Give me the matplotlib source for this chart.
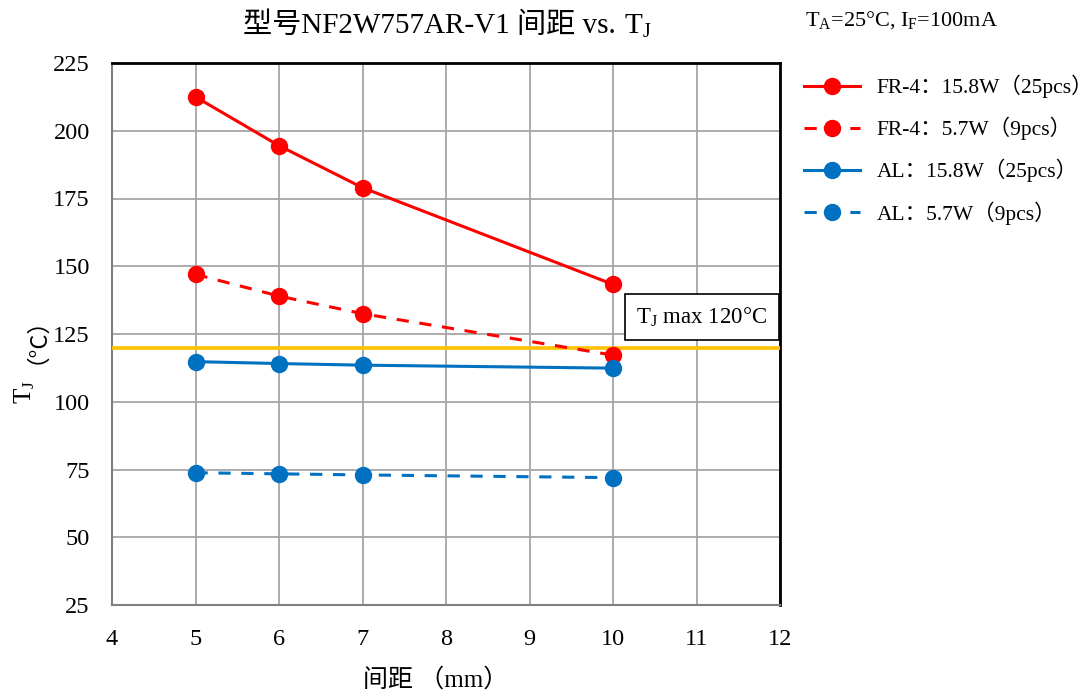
import matplotlib
matplotlib.use("Agg")
import matplotlib.pyplot as plt
from matplotlib.offsetbox import TextArea, HPacker, AnnotationBbox

plt.rcParams['font.family'] = ['Liberation Serif', 'Noto Sans CJK SC']
plt.rcParams['mathtext.fontset'] = 'custom'
plt.rcParams['mathtext.rm'] = 'Liberation Serif'
plt.rcParams['mathtext.it'] = 'Liberation Serif:italic'
plt.rcParams['mathtext.bf'] = 'Liberation Serif:bold'

# ---- data ----
spacing = [5, 6, 7, 10]
fr4_158 = [212.5, 194.5, 179.0, 143.3]
fr4_57 = [147.0, 139.0, 132.5, 117.2]
al_158 = [114.8, 114.1, 113.5, 112.4]
al_57 = [73.8, 73.4, 73.0, 72.0]
series_labels = ["FR-4：15.8W（25pcs）", "FR-4：5.7W（9pcs）",
                 "AL：15.8W（25pcs）", "AL：5.7W（9pcs）"]
tj_max = 120
x_ticks = [4, 5, 6, 7, 8, 9, 10, 11, 12]
y_ticks = [25, 50, 75, 100, 125, 150, 175, 200, 225]

RED = "#FF0000"
BLUE = "#0070C0"
YELLOW = "#FFC000"

fig = plt.figure(figsize=(10.92, 6.93), dpi=100)
ax = fig.add_axes([112/1092, 1-605/693, (780-112)/1092, (605-63)/693])

lw = 2.2
ms = 11.5
ax.plot(spacing, fr4_158, color=RED, lw=lw, marker='o', ms=ms, label=series_labels[0], zorder=5)
ax.plot(spacing, fr4_57, color=RED, lw=lw, marker='o', ms=ms, ls=(0, (4, 3.5)), label=series_labels[1], zorder=5)
ax.plot(spacing, al_158, color=BLUE, lw=lw, marker='o', ms=ms, label=series_labels[2], zorder=5)
ax.plot(spacing, al_57, color=BLUE, lw=lw, marker='o', ms=ms, ls=(0, (4, 3.5)), label=series_labels[3], zorder=5)
ax.axhline(tj_max, color=YELLOW, lw=2.6, zorder=4)

ax.set_xlim(4, 12)
ax.set_ylim(25, 225)
ax.set_xticks(x_ticks)
ax.set_yticks(y_ticks)
ax.tick_params(length=0, labelsize=17.5)
ax.tick_params(axis='y', pad=16)
ax.tick_params(axis='x', pad=17)
ax.grid(True, color="#A6A6A6", lw=1.3)
ax.set_axisbelow(True)
for s in ['left', 'bottom']:
    ax.spines[s].set_color("#7F7F7F")
    ax.spines[s].set_linewidth(1.5)
for s in ['top', 'right']:
    ax.spines[s].set_color("black")
    ax.spines[s].set_linewidth(2.0)

# title
t1 = TextArea("型号NF2W757AR-V1 间距 vs.", textprops=dict(size=21, family=['Liberation Serif', 'Noto Sans CJK SC']))
t2 = TextArea(r"T$_\mathregular{J}$", textprops=dict(size=21))
title = HPacker(children=[t1, t2], align="baseline", pad=0, sep=6)
ab = AnnotationBbox(title, (447/1092, 1-26/693), xycoords='figure fraction',
                    box_alignment=(0.5, 0.5), frameon=False)
fig.add_artist(ab)

# x label
fig.text(436/1092, 1-680/693, "间距 （mm）", ha='center', va='center', size=18)

# y label
fig.text(25/1092, 1-392/693, r"T$_\mathregular{J}$", rotation=90, ha='center', va='center', size=18)
fig.text(25/1092, 1-329/693, "（°C）", rotation=90, ha='center', va='center', size=17,
         family=['Noto Sans CJK SC'])

# conditions
fig.text(805/1092, 1-20/693, r"T$_\mathregular{A}$=25°C, I$_\mathregular{F}$=100mA",
         ha='left', va='center', size=16)

# Tj max annotation box
ax.text(11.06, 131.3, r"T$_\mathregular{J}$ max 120°C", ha='center', va='center', size=16.5,
        bbox=dict(boxstyle='square,pad=0.5', fc='white', ec='black', lw=1.2), zorder=6)

# legend
leg = fig.legend(loc='upper left', bbox_to_anchor=(795/1092, 1-66/693), frameon=False,
                 fontsize=15.5, handlelength=2.6, labelspacing=0.87, handletextpad=0.8,
                 borderaxespad=0)

fig.savefig("out.png", dpi=100)
